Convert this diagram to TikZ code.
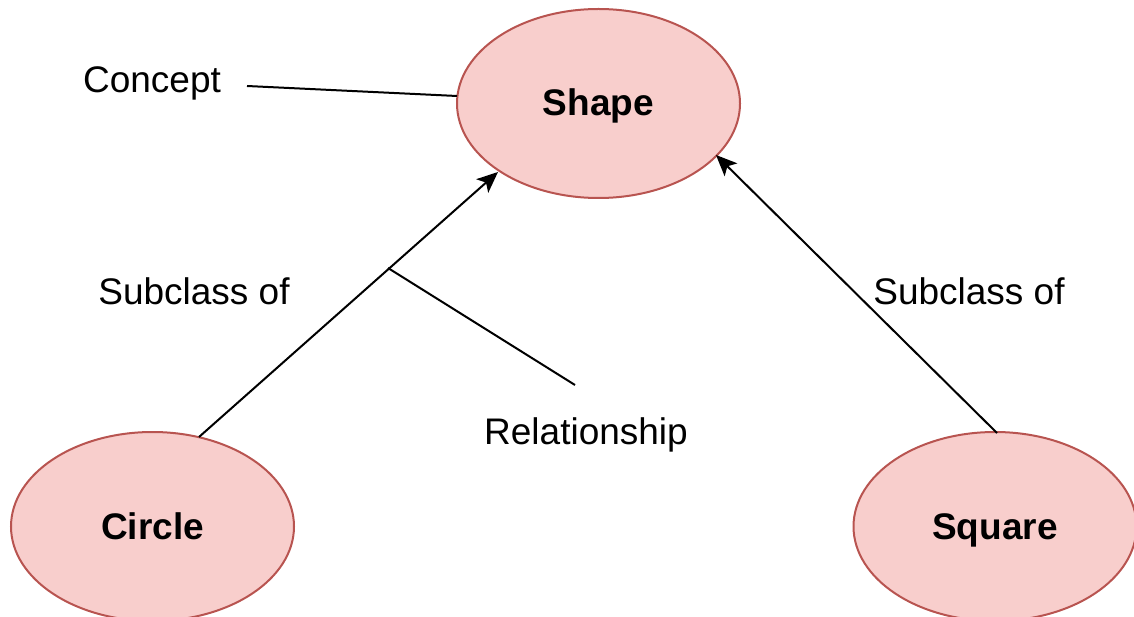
\documentclass[tikz,border=0pt]{standalone}
\usepackage{fontspec}
\setmainfont{Liberation Sans}
\usetikzlibrary{shapes.geometric,arrows.meta}
\definecolor{conceptfill}{HTML}{F8CECC}
\definecolor{conceptline}{HTML}{B85450}
\tikzset{
  concept/.style={ellipse, draw=conceptline, fill=conceptfill, line width=2pt,
    minimum width=283pt, minimum height=189pt, inner sep=0pt,
    text height=27pt, text depth=2pt,
    font=\fontsize{37}{44}\selectfont\bfseries},
  caption/.style={font=\fontsize{37}{44}\selectfont, inner sep=0pt,
    text height=27pt, text depth=2pt},
  link/.style={line width=2pt, draw=black},
  isa/.style={link, -{Stealth[length=21pt, width=18pt, inset=5pt]}},
}
\begin{document}
\begin{tikzpicture}[x=1pt, y=-1pt]
  \useasboundingbox (0,0) rectangle (1134,617);

  % concepts
  \node[concept] (shape)  at (598.5,103.5) {Shape};
  \node[concept] (circle) at (152.5,526.5) {Circle};
  \node[concept] (square) at (995,526.5)   {Square};

  % labels
  \node[caption] (conceptlbl) at (152,80)  {Concept};
  \node[caption] (subl)       at (194,292) {Subclass of};
  \node[caption] (subr)       at (969,292) {Subclass of};
  \node[caption] (rellbl)     at (586,432) {Relationship};

  % subclass relations
  \coordinate (cstart) at (199,437);
  \coordinate (cend)   at (498,172);
  \coordinate (sstart) at (997,433);
  \coordinate (send)   at (716,155);
  \draw[isa] (cstart) -- (cend);
  \draw[isa] (sstart) -- (send);

  % annotation pointers
  \coordinate (conceptend) at (247,86);
  \coordinate (shapeleft)  at (457,96);
  \draw[link] (conceptend) -- (shapeleft);
  \coordinate (relfoot) at (388,268);
  \coordinate (relend)  at (575,385);
  \draw[link] (relfoot) -- (relend);
\end{tikzpicture}
\end{document}
